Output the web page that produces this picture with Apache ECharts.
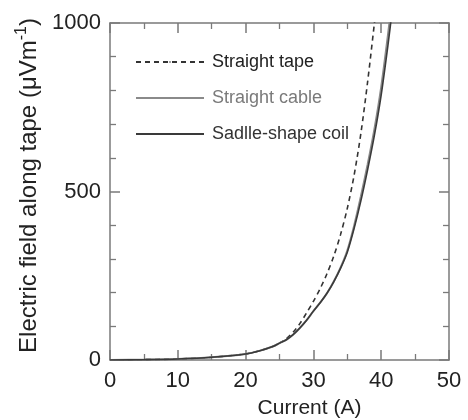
<!DOCTYPE html>
<html>
<head>
<meta charset="utf-8">
<script src="https://cdn.jsdelivr.net/npm/echarts@6/dist/echarts.min.js"></script>
<style>
  html, body {margin: 0; padding: 0; background: #fff;}
  #main {width: 468px; height: 420px;}
</style>
</head>
<body>
<div id="main"></div>
<script>
// values
const seriesNames = ['Straight tape', 'Straight cable', 'Sadlle-shape coil'];

const currentTape = [0, 5, 10, 15, 20, 22, 24, 25, 26, 27, 28, 29, 30, 31, 32, 33, 34, 35, 36, 37, 38, 39, 39.4];
const fieldTape = [0, 1, 3, 8, 18, 27, 40, 50, 63, 82, 108, 140, 174, 212, 256, 308, 372, 450, 548, 672, 826, 1000, 1075];

const currentCable = [0, 5, 10, 15, 20, 22, 24, 25, 26, 27, 28, 29, 30, 31, 32, 33, 34, 35, 36, 37, 38, 39, 40, 41, 41.5];
const fieldCable = [0, 1, 3, 8, 18, 27, 40, 50, 60, 75, 95, 118, 145, 170, 198, 233, 274, 325, 398, 485, 580, 685, 810, 965, 1050];

const currentSaddle = [0, 5, 10, 15, 20, 22, 24, 25, 26, 27, 28, 29, 30, 31, 32, 33, 34, 35, 36, 37, 38, 39, 40, 41, 41.7];
const fieldSaddle = [0, 1, 3, 8, 18, 27, 40, 50, 60, 75, 95, 118, 145, 170, 198, 232, 272, 320, 390, 472, 565, 667, 787, 935, 1050];

const xTicks = {min: 0, max: 50, interval: 10};
const yTicks = {min: 0, max: 1000, interval: 500};

const pairs = (xs, ys) => xs.map((x, i) => [x, ys[i]]);

const font = 'Liberation Sans, Arial, sans-serif';
const axisGray = '#7a7a7a';

const baseAxis = (extra) => Object.assign({
  type: 'value',
  axisLine: {show: true, onZero: false, lineStyle: {color: axisGray, width: 1.5}},
  axisTick: {show: true, inside: true, length: 10, lineStyle: {color: axisGray, width: 1.5}},
  splitLine: {show: false},
  minorSplitLine: {show: false}
}, extra);

const minor = (n) => ({show: true, splitNumber: n, length: 6, lineStyle: {color: axisGray, width: 1.3}});

const chart = echarts.init(document.getElementById('main'));
chart.setOption({
  backgroundColor: '#fff',
  animation: false,
  textStyle: {fontFamily: font},
  grid: {left: 110, right: 19, top: 23, bottom: 60, outerBoundsMode: 'none', containLabel: false},
  legend: {
    orient: 'vertical',
    left: 130,
    top: 48,
    itemWidth: 68,
    itemHeight: 2,
    itemGap: 18,
    textStyle: {fontSize: 18, fontFamily: font, padding: [0, 0, 0, 3]},
    data: [
      {name: seriesNames[0], textStyle: {color: '#222'}},
      {name: seriesNames[1], textStyle: {color: '#7a7a7a'}},
      {name: seriesNames[2], textStyle: {color: '#333'}}
    ]
  },
  xAxis: [
    baseAxis({
      min: xTicks.min, max: xTicks.max, interval: xTicks.interval,
      minorTick: minor(2),
      axisLabel: {fontSize: 22, color: '#222', margin: 10, fontFamily: font},
      name: 'Current (A)',
      nameLocation: 'middle',
      nameGap: 38,
      nameTextStyle: {fontSize: 21, color: '#222', padding: [0, 0, 0, 60], fontFamily: font}
    }),
    baseAxis({
      position: 'top',
      min: xTicks.min, max: xTicks.max, interval: xTicks.interval,
      minorTick: minor(2),
      axisLabel: {show: false}
    })
  ],
  yAxis: [
    baseAxis({
      min: yTicks.min, max: yTicks.max, interval: yTicks.interval,
      minorTick: minor(5),
      axisLabel: {fontSize: 22, color: '#222', margin: 9, fontFamily: font, formatter: (v) => String(v)},
      name: '{a|Electric field along tape (μVm}{s|-1}{a|)}',
      nameLocation: 'middle',
      nameGap: 64,
      nameRotate: 90,
      nameTextStyle: {
        fontFamily: font,
        padding: [0, 0, 0, 12],
        rich: {
          a: {fontSize: 24, color: '#222', fontFamily: font, verticalAlign: 'bottom', lineHeight: 28},
          s: {fontSize: 16, color: '#222', fontFamily: font, verticalAlign: 'top', lineHeight: 28}
        }
      }
    }),
    baseAxis({
      position: 'right',
      min: yTicks.min, max: yTicks.max, interval: yTicks.interval,
      minorTick: minor(5),
      axisLabel: {show: false}
    })
  ],
  series: [
    {
      name: seriesNames[0],
      type: 'line',
      smooth: 0.3,
      symbol: 'none',
      clip: true,
      lineStyle: {color: '#333', width: 1.6, type: [5, 4]},
      itemStyle: {color: '#333'},
      data: pairs(currentTape, fieldTape)
    },
    {
      name: seriesNames[1],
      type: 'line',
      smooth: 0.3,
      symbol: 'none',
      clip: true,
      lineStyle: {color: '#8a8a8a', width: 2},
      itemStyle: {color: '#8a8a8a'},
      data: pairs(currentCable, fieldCable)
    },
    {
      name: seriesNames[2],
      type: 'line',
      smooth: 0.3,
      symbol: 'none',
      clip: true,
      lineStyle: {color: '#3a3a3a', width: 1.6},
      itemStyle: {color: '#3a3a3a'},
      data: pairs(currentSaddle, fieldSaddle)
    }
  ]
});
</script>
</body>
</html>
